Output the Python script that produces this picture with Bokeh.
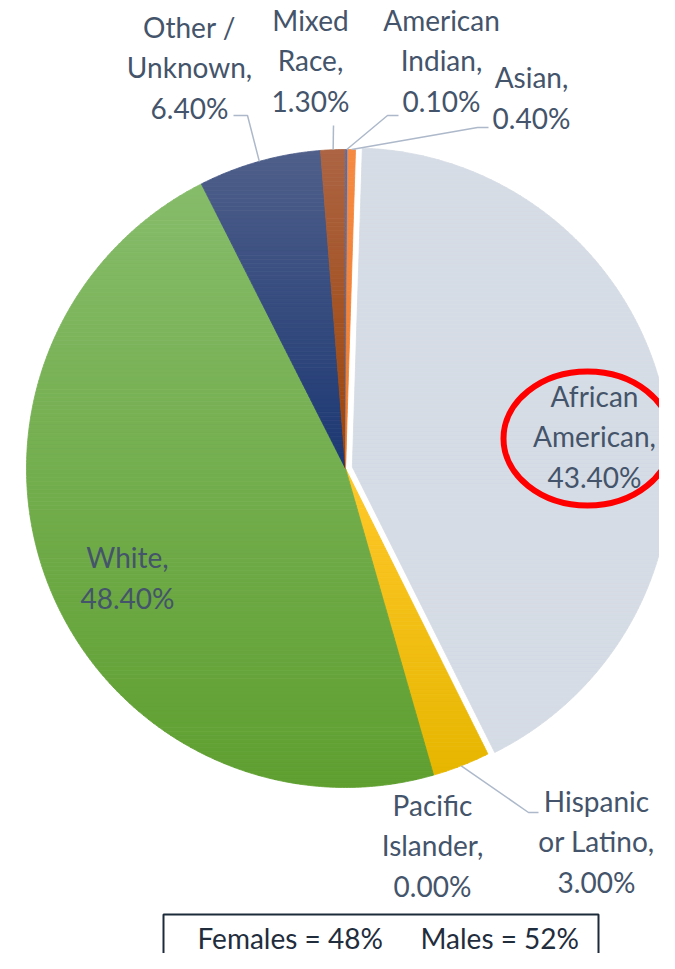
import numpy as np
from bokeh.plotting import figure
from bokeh.models import Range1d
from bokeh.core.properties import value
from bokeh.embed import file_html
from bokeh.resources import INLINE

# ---------------- data ----------------
categories = ["African American", "Hispanic or Latino", "Pacific Islander", "White",
              "Other / Unknown", "Mixed Race", "American Indian", "Asian"]
percent = [43.4, 3.0, 0.0, 48.4, 6.4, 1.3, 0.1, 0.4]
label_names = ["African\nAmerican,", "Hispanic\nor Latino,", "Pacific\nIslander,", "White,",
               "Other /\nUnknown,", "Mixed\nRace,", "American\nIndian,", "Asian,"]
gender_names = ["Females", "Males"]
gender_share = [48, 52]

# ---------------- style / layout ----------------
top_colors = ["#D6DCE5", "#FFC82A", "#FFC000", "#86BC6A", "#4F5F8A", "#AC6443", "#4472C4", "#F58A42"]
bottom_colors = ["#D6DCE5", "#E6B600", "#E6B600", "#5F9F30", "#1C3873", "#9C4408", "#4472C4", "#EE7E30"]
explode = [7, 0, 0, 0, 0, 0, 0, 0]
CX, CY, R = 345.0, 468.0, 319.0
FIRST_ANGLE = 1.8  # degrees clockwise from 12 o'clock
FONT = "Lato"
FS = 28

label_pos = {
    "African American": (594, 436),
    "Hispanic or Latino": (596, 841),
    "Pacific Islander": (432, 845),
    "White": (127, 577),
    "Other / Unknown": (189, 67),
    "Mixed Race": (310, 60),
    "American Indian": (441, 60),
    "Asian": (531, 97),
}
leader_pts = {
    "Other / Unknown": [(233, 115), (247, 115)],
    "Mixed Race": [(333, 125)],
    "American Indian": [(398, 115), (387, 115)],
    "Asian": [(488, 127), (477, 127)],
    "Hispanic or Latino": [(538, 812), (528, 812)],
}

W, H = 659, 953
p = figure(width=W, height=H, output_backend="svg", toolbar_location=None,
           x_range=Range1d(0, W), y_range=Range1d(-H, 0),
           min_border=0)
p.axis.visible = False
p.xgrid.visible = False
p.ygrid.visible = False
p.outline_line_color = None
p.background_fill_color = "white"


def hex2rgb(h):
    h = h.lstrip("#")
    return np.array([int(h[i:i + 2], 16) for i in (0, 2, 4)], dtype=float)


def rgb2hex(c):
    return "#%02x%02x%02x" % tuple(int(round(v)) for v in c)


def clip(poly, yv, keep_above):
    out = []
    n = len(poly)
    for i in range(n):
        a = poly[i]
        b = poly[(i + 1) % n]
        ina = a[1] >= yv if keep_above else a[1] <= yv
        inb = b[1] >= yv if keep_above else b[1] <= yv
        if ina:
            out.append(a)
        if ina != inb:
            t = (yv - a[1]) / (b[1] - a[1])
            out.append((a[0] + t * (b[0] - a[0]), yv))
    return out


def pt(theta_deg, r, ox=0.0, oy=0.0):
    t = np.radians(theta_deg)
    return (CX + ox + r * np.sin(t), CY + oy - r * np.cos(t))


total = sum(percent)
cum = FIRST_ANGLE
xs_all, ys_all, cols_all = [], [], []
mid_angles = {}
for cat, v, e, c0, c1 in zip(categories, percent, explode, top_colors, bottom_colors):
    span = v / total * 360.0
    a0, a1 = cum, cum + span
    cum = a1
    mid = (a0 + a1) / 2
    mid_angles[cat] = mid
    if v <= 0:
        continue
    ox = e * np.sin(np.radians(mid))
    oy = -e * np.cos(np.radians(mid))
    nseg = max(2, int(span / 0.5))
    arc = [pt(a, R, ox, oy) for a in np.linspace(a0, a1, nseg + 1)]
    poly = [(CX + ox, CY + oy)] + arc
    ymin = min(q[1] for q in poly)
    ymax = max(q[1] for q in poly)
    ca, cb = hex2rgb(c0), hex2rgb(c1)
    nstrip = max(1, int((ymax - ymin) / 4))
    hh = (ymax - ymin) / nstrip
    for i in range(nstrip):
        y0 = ymin + i * hh
        y1 = y0 + hh
        sub = clip(clip(poly, y0, True), y1, False)
        if len(sub) < 3:
            continue
        col = rgb2hex(ca + (cb - ca) * (i + 0.5) / nstrip)
        xs_all.append([q[0] for q in sub])
        ys_all.append([-q[1] for q in sub])
        cols_all.append(col)

p.patches(xs=xs_all, ys=ys_all, fill_color=cols_all, line_color=cols_all, line_width=0.8)

# leader lines
for cat, pts in leader_pts.items():
    edge = pt(mid_angles[cat], R)
    line = pts + [edge]
    p.line(x=[q[0] for q in line], y=[-q[1] for q in line], line_color="#ADB9CA", line_width=1.5)

# data labels
lx, ly, lt = [], [], []
for cat, name, v in zip(categories, label_names, percent):
    x, y = label_pos[cat]
    lx.append(x)
    ly.append(-y)
    lt.append(f"{name}\n{v:.2f}%")
p.text(x=lx, y=ly, text=lt, text_font=value(FONT), text_font_size=f"{FS}px",
       text_color="#44546A", text_align="center", text_baseline="middle",
       text_line_height=1.19)

# highlight ellipse
p.ellipse(x=[587], y=[-438], width=[168], height=[134], fill_color=None,
          line_color="#FF0000", line_width=6)

# gender box
p.quad(left=[163], right=[598], top=[-914], bottom=[-980], fill_color="white",
       line_color="#1C2B3A", line_width=2)
p.text(x=[197, 420], y=[-937, -937],
       text=[f"{n} = {s}%" for n, s in zip(gender_names, gender_share)],
       text_font=value(FONT), text_font_size=f"{FS}px", text_color="#1F2D3D",
       text_align="left", text_baseline="middle")

open("out.html", "w").write(file_html(p, INLINE))
